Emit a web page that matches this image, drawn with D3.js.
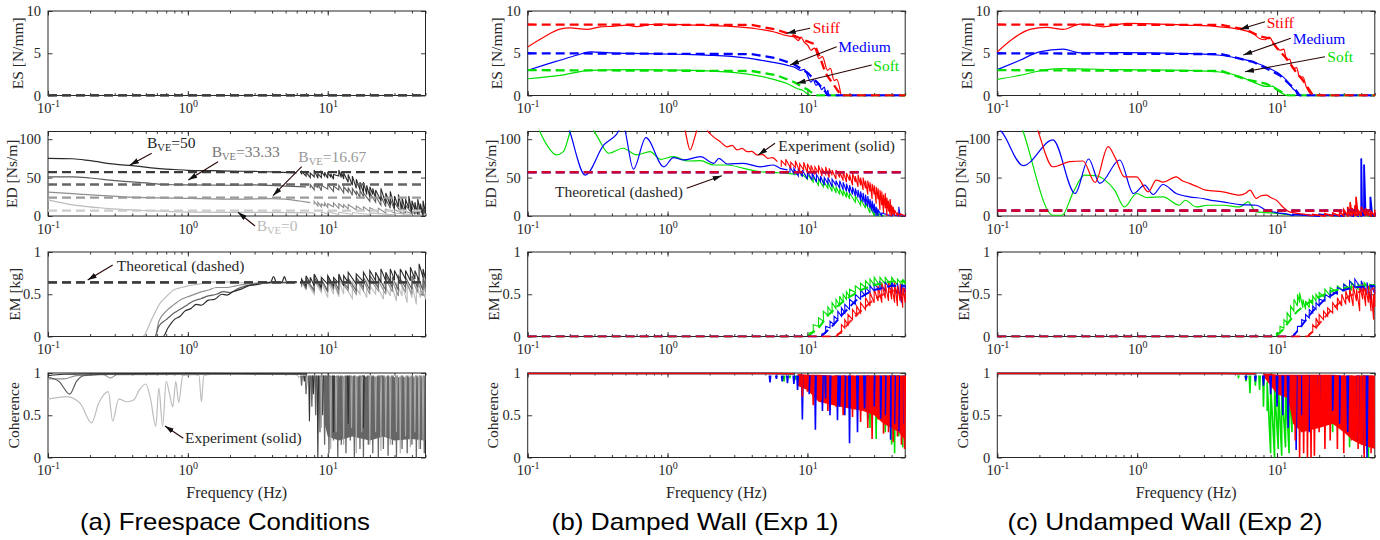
<!DOCTYPE html>
<html>
<head>
<meta charset="utf-8">
<script src="https://cdn.jsdelivr.net/npm/d3@7"></script>
<style>
  body { margin: 0; background: #fff; }
  svg { display: block; }
  text { font-family: "Liberation Serif", "Times New Roman", serif; }
</style>
</head>
<body>
<svg id="fig" width="1380" height="540"></svg>
<script>
// ---------------- data (frequency in Hz, value) ----------------
const fDomain = [0.1, 50];
const xMajor = [0.1, 1, 10];
const rowNames = ['ES [N/mm]', 'ED [Ns/m]', 'EM [kg]', 'Coherence'];
const yDomains = [[0, 10], [0, 110], [0, 1], [0, 1]];
const yTickVals = [[0, 5, 10], [0, 50, 100], [0, 0.5, 1], [0, 0.5, 1]];
const captions = ['(a) Freespace Conditions', '(b) Damped Wall (Exp 1)', '(c) Undamped Wall (Exp 2)'];

// (a) freespace, four virtual dampings
const bveNames = ['50', '33.33', '16.67', '0'];
const esA_theory = [0, 0, 0, 0];
const edA_theory = [57, 41, 24, 7];
const emA_theory = [0.64, 0.64, 0.64, 0.64];

const edA_b50 = [[0.1,75],[0.15,74.5],[0.2,72],[0.3,67.5],[0.4,65.5],[0.6,62],[0.8,60.5],[1,59.5],[1.5,59],[2,58.5],[3,58],[4,57.5],[6,56]];
const edA_b33 = [[0.1,51],[0.15,51],[0.2,49.5],[0.3,46],[0.5,43],[0.7,41],[1,40.5],[2,40],[3,40.5],[5,39],[7,38]];
const edA_b16 = [[0.1,31],[0.15,29],[0.35,25],[1,23],[2.3,22],[4,22.5],[5,22],[6.3,19.5],[7.5,17.5]];
const edA_b0  = [[0.1,21],[0.15,14.5],[0.26,10],[0.45,7.5],[1,5],[2.3,4.8],[5.4,4.5],[8,4]];
const edA_b50_noise = [[6.5,54,58],[7,52,57],[7.5,50,56],[8,51,60],[8.5,49,55],[9,50,58],[9.5,52,57],[10,49,56],[10.5,51,55],[11,48,54],[12,52,60],[12.5,50,58],[13,48,56],[14,44,54],[15,40,52],[16,36,48],[17,34,44],[18,30,44],[19,28,40],[20,25,38],[21,28,36],[22,22,34],[24,20,36],[26,16,30],[28,14,32],[30,10,26],[32,12,28],[34,8,24],[36,6,22],[38,10,26],[40,4,20],[42,8,18],[44,2,22],[46,6,16],[48,0,20],[50,4,12]];
const edA_b33_noise = [[7.5,36,41],[8,34,40],[8.5,37,42],[9,33,40],[10,35,41],[11,32,39],[12,34,40],[13,30,38],[14,31,37],[15,27,36],[16,28,33],[17,24,34],[18,25,30],[20,19,30],[22,18,26],[24,14,26],[26,12,22],[28,10,22],[30,8,18],[33,6,18],[36,4,14],[39,6,16],[42,2,12],[45,4,12],[48,2,10],[50,3,8]];
const edA_b16_noise = [[8,15,19],[8.5,13,18],[9,12,16],[9.5,13,17],[10,11,16],[11,12,17],[12,10,16],[13,11,15],[14,9,15],[16,8,13],[18,7,12],[20,6,11],[23,5,10],[26,4,9],[30,4,8],[35,3,7],[40,3,7],[45,2,6],[50,3,5]];
const edA_b0_noise  = [[9,2.5,5],[10,3,5.5],[12,2,5],[15,2,4.5],[20,2,4],[30,1.5,4],[40,1.5,3.5],[50,2,3]];

const emA_b50 = [[0.1,0],[0.665,0],[0.72,0.1],[0.8,0.2],[0.88,0.24],[0.95,0.3],[1.05,0.33],[1.15,0.38],[1.25,0.37],[1.4,0.43],[1.55,0.44],[1.75,0.5],[1.9,0.49],[2.1,0.53],[2.4,0.56],[2.7,0.6],[3,0.61],[3.5,0.63],[3.9,0.64],[4.1,0.71],[4.3,0.64],[4.7,0.64],[4.9,0.71],[5.1,0.64],[6,0.65]];
const emA_b33 = [[0.1,0],[0.58,0],[0.62,0.12],[0.7,0.2],[0.8,0.28],[0.9,0.33],[1,0.38],[1.1,0.42],[1.25,0.45],[1.4,0.48],[1.6,0.5],[1.8,0.53],[2,0.52],[2.3,0.57],[2.6,0.6],[3,0.62],[3.5,0.64],[6,0.64]];
const emA_b16 = [[0.1,0],[0.585,0],[0.62,0.18],[0.7,0.3],[0.8,0.38],[0.9,0.44],[1,0.47],[1.2,0.52],[1.4,0.55],[1.6,0.58],[1.9,0.58],[2.2,0.6],[2.6,0.62],[3,0.63],[6,0.64]];
const emA_b0  = [[0.1,0],[0.475,0],[0.55,0.2],[0.63,0.39],[0.7,0.47],[0.79,0.55],[0.9,0.58],[1,0.6],[1.2,0.62],[1.4,0.64],[1.7,0.65],[2.2,0.64],[3,0.63],[6,0.63]];
const emA_b50_noise = [[6.5,0.62,0.68],[7,0.6,0.72],[7.5,0.63,0.7],[8,0.6,0.74],[9,0.58,0.7],[10,0.62,0.72],[11,0.6,0.7],[12,0.63,0.74],[13,0.6,0.72],[14,0.64,0.76],[16,0.62,0.74],[18,0.65,0.76],[20,0.63,0.78],[22,0.66,0.76],[24,0.64,0.8],[26,0.66,0.76],[28,0.65,0.8],[30,0.67,0.78],[33,0.64,0.8],[36,0.68,0.78],[39,0.66,0.82],[42,0.68,0.78],[45,0.66,0.86],[48,0.7,0.8],[50,0.68,0.76]];
const emA_b33_noise = [[6.5,0.6,0.67],[7,0.58,0.68],[8,0.55,0.7],[9,0.57,0.68],[10,0.54,0.7],[11,0.58,0.68],[12,0.55,0.7],[14,0.57,0.69],[16,0.54,0.7],[18,0.58,0.7],[20,0.55,0.72],[23,0.58,0.7],[26,0.55,0.72],[29,0.58,0.7],[32,0.55,0.72],[36,0.58,0.7],[40,0.56,0.72],[44,0.58,0.7],[48,0.55,0.72],[50,0.58,0.68]];
const emA_b16_noise = [[6.5,0.59,0.66],[7,0.56,0.67],[8,0.53,0.68],[9,0.55,0.66],[10,0.52,0.68],[11,0.55,0.66],[12,0.5,0.67],[14,0.54,0.66],[16,0.5,0.68],[18,0.54,0.66],[20,0.5,0.68],[23,0.54,0.66],[26,0.5,0.68],[29,0.53,0.66],[32,0.48,0.67],[36,0.53,0.66],[40,0.5,0.68],[44,0.52,0.65],[48,0.48,0.66],[50,0.52,0.64]];
const emA_b0_noise  = [[6.5,0.58,0.66],[7,0.55,0.65],[8,0.5,0.66],[9,0.52,0.64],[10,0.46,0.66],[11,0.5,0.64],[12,0.47,0.66],[13,0.5,0.63],[15,0.45,0.65],[17,0.5,0.64],[19,0.46,0.66],[22,0.5,0.64],[25,0.44,0.64],[28,0.48,0.66],[31,0.42,0.64],[34,0.48,0.62],[37,0.4,0.64],[40,0.46,0.62],[43,0.38,0.62],[46,0.46,0.64],[50,0.44,0.6]];

const cohA_b50 = [[0.1,0.97],[0.13,0.985],[0.2,0.99],[1,0.995],[7,0.99]];
const cohA_b33 = [[0.1,0.95],[0.12,0.9],[0.143,0.75],[0.16,0.9],[0.18,0.97],[0.3,0.985],[7,0.99]];
const cohA_b16 = [[0.1,0.93],[0.13,0.93],[0.16,0.97],[0.25,0.98],[0.28,0.94],[0.31,0.98],[7,0.99]];
const cohA_b0  = [[0.1,0.69],[0.136,0.72],[0.17,0.64],[0.205,0.41],[0.23,0.64],[0.27,0.78],[0.29,0.43],[0.32,0.69],[0.37,0.66],[0.41,0.68],[0.45,0.8],[0.5,0.87],[0.54,0.7],[0.59,0.37],[0.62,0.82],[0.66,0.37],[0.7,0.9],[0.74,0.75],[0.78,0.6],[0.82,0.9],[0.86,0.65],[0.92,0.97],[1.1,0.98],[1.2,0.97],[1.25,0.66],[1.3,0.97],[1.6,0.99],[3,0.99],[6,0.98]];
const cohA_band = [[9.5,0.4,0.97],[10,0.25,0.97],[12,0.2,0.96],[15,0.25,0.96],[20,0.2,0.96],[25,0.25,0.95],[30,0.2,0.95],[40,0.22,0.95],[50,0.2,0.94]];
const cohA_spk_mid = [[6.5,0.85],[7,0.75],[7.7,0.6],[8.2,0.5],[8.8,0.3],[9.5,0.15],[10.2,0.05],[11,0.2],[11.8,0.0],[12.5,0.15],[13.5,0.05],[14.5,0.2],[15.5,0.0],[17,0.1],[18,0.0],[19.5,0.15],[21,0.05],[23,0.0],[25,0.1],[27,0.02],[29,0.15],[31,0.0],[34,0.1],[37,0.05],[40,0.15],[43,0.0],[46,0.1],[49,0.05]];
const cohA_spk_dark = [[6.8,0.9],[7.4,0.43],[7.9,0.75],[8.5,0.0],[9.2,0.5],[11,0.3],[14,0.4],[18,0.35],[24,0.3]];
const cohA_spk_light = [[6.2,0.95],[7.1,0.85],[9,0.35],[10.5,0.1],[11.5,0.3],[13,0.15],[14.8,0.35],[16,0.05],[17.5,0.3],[20,0.15],[22,0.3],[24,0.08],[26,0.25],[28,0.15],[31,0.3],[33,0.05],[36,0.25],[39,0.12],[42,0.3],[45,0.1],[48,0.2]];

// (b) damped wall, walls: soft / medium / stiff
const esB_red   = [[0.1,5.75],[0.13,6.9],[0.17,7.86],[0.2,8.0],[0.265,7.82],[0.33,8.13],[0.42,8.2],[0.51,8.33],[0.6,8.15],[0.75,8.4],[0.89,8.45],[1.54,8.33],[2.67,8.2],[4.14,7.94],[6.1,7.42],[7,7.1],[8,6.94],[8.6,6.5],[9.0,6.9],[9.45,6.35],[10.1,5.9],[10.6,5.36],[11.2,5.6],[12.1,4.37],[12.8,4.6],[13.9,2.98],[14.6,3.2],[15.5,1.79],[16.2,1.9],[17.4,0]];
const esB_blue  = [[0.1,2.98],[0.129,3.57],[0.17,4.17],[0.224,4.76],[0.28,5.16],[0.39,5.04],[0.67,4.96],[1.17,4.88],[2.03,4.76],[3.5,4.48],[5.46,3.97],[7.2,3.57],[8,3.37],[8.96,2.98],[9.5,3.1],[10,2.38],[10.6,1.58],[11.0,1.9],[11.5,1.2],[12.1,1.4],[12.6,0.7],[13.2,1.0],[13.6,0.2],[14,0.6],[14.2,0]];
const esB_green = [[0.1,1.98],[0.17,2.38],[0.28,2.98],[0.51,3.06],[1.54,2.98],[3.5,2.58],[5.17,2.1],[7.2,1.39],[8.5,0.8],[9.3,0.6],[10,0.2],[10.6,0]];
const esB_red_th   = [[0.1,8.4],[4,8.35],[6,7.8],[8,7.1],[10,6.4],[11.2,6.1],[12.5,4.2],[13.5,2.6],[15.5,1.2],[17.4,0],[50,0]];
const esB_blue_th  = [[0.1,5.0],[4,4.9],[6,4.4],[8,3.7],[10,2.7],[12,1.4],[13.5,0.4],[14,0],[50,0]];
const esB_green_th = [[0.1,3.0],[4,2.9],[6,2.4],[8,1.6],[10,0.7],[11,0.2],[11.5,0],[50,0]];

const edB_theory = 57;
const edB_green = [[0.1,150],[0.122,110],[0.137,92.5],[0.16,79.5],[0.18,83.8],[0.2,108],[0.24,150],[0.29,115],[0.32,101],[0.38,81.7],[0.48,88.2],[0.6,79.5],[0.75,83.8],[0.89,73.8],[1.1,77.2],[1.4,71.6],[1.72,72],[2.14,66.4],[2.67,66.4],[3.5,62],[4.6,57.6],[6,56.5],[7.2,55.5],[8.5,54]];
const edB_blue  = [[0.17,150],[0.2,110],[0.258,53.3],[0.35,92.5],[0.43,106],[0.48,118],[0.57,61],[0.7,102],[0.94,64],[1.1,76],[1.3,73],[1.72,77.2],[2.14,68.6],[2.33,75],[2.67,67.7],[3.5,68.6],[4.6,64],[5.7,66.4],[6.4,62],[7.2,60]];
const edB_red   = [[1.25,135],[1.34,110],[1.45,86],[1.55,100],[1.62,112],[1.75,135],[1.92,112],[2.1,104],[2.37,97],[2.67,90],[2.9,92],[3.14,86],[3.4,88],[3.7,83.8],[4.0,84],[4.38,79.5],[4.8,80],[5.2,75],[5.6,76],[6.1,70.7]];
const edB_green_noise = [[9,52,56],[10,48,54],[11,44,52],[12,40,48],[13,38,46],[14,36,44],[15,32,42],[16,30,38],[17,28,36],[18,26,34],[19,24,32],[20,22,30],[22,18,26],[24,14,22],[26,10,18],[28,4,14],[30,0,8],[32,0,3],[35,0,1]];
const edB_blue_noise  = [[7.5,56,64],[8,55,62],[8.6,52,62],[9.2,51,60],[10,48,58],[10.8,47,56],[11.6,44,54],[12.4,45,52],[13.2,40,50],[14,42,50],[15,38,48],[16,40,46],[17,36,46],[18,34,44],[19,32,42],[20,30,40],[21,28,38],[22,26,36],[23,24,34],[24,20,32],[25,18,30],[26,14,28],[27,12,26],[28,10,22],[29,6,20],[30,4,16],[31,0,12],[32,0,8],[34,0,4],[40,0,2],[45,0,12],[46,0,2],[50,0,1]];
const edB_red_noise   = [[6.5,64,72],[7,66,74],[7.6,62,70],[8.2,63,72],[8.8,58,68],[9.4,60,70],[10,56,68],[10.6,58,66],[11.3,54,64],[12,56,66],[12.7,52,62],[13.5,54,64],[14.3,50,62],[15,53,60],[16,48,60],[17,50,58],[18,46,58],[19,44,56],[20,46,54],[21,40,56],[22,44,52],[23,38,54],[24,40,50],[25,34,50],[26,36,46],[27,28,46],[28,32,44],[29,22,42],[30,28,40],[31,16,38],[32,22,36],[33,8,34],[34,14,32],[35,4,28],[36,10,30],[37,0,24],[38,6,20],[39,0,22],[40,0,14],[41,2,12],[42,0,8],[44,0,4],[46,0,3],[50,0,1]];

const emB_green_th = [[0.1,0],[10,0],[12,0.1],[14,0.25],[17,0.38],[20,0.47],[25,0.56],[30,0.61],[40,0.65],[50,0.65]];
const emB_blue_th  = [[0.1,0],[12.5,0],[15,0.12],[18,0.27],[22,0.42],[26,0.5],[30,0.55],[40,0.6],[50,0.6]];
const emB_red_th   = [[0.1,0],[16,0],[18,0.08],[20,0.17],[24,0.3],[28,0.4],[33,0.48],[40,0.54],[50,0.56]];
const emB_green = [[10.3,0,0.04],[11,0.06,0.14],[12,0.12,0.22],[13,0.18,0.3],[14,0.25,0.35],[15,0.28,0.4],[16,0.33,0.44],[17,0.37,0.48],[18,0.4,0.5],[19,0.44,0.53],[20,0.47,0.56],[22,0.52,0.6],[24,0.55,0.63],[26,0.58,0.66],[28,0.6,0.68],[30,0.61,0.7],[33,0.6,0.7],[36,0.62,0.7],[40,0.6,0.7],[44,0.61,0.68],[48,0.6,0.68],[50,0.62,0.66]];
const emB_blue  = [[12.7,0,0.03],[13.5,0.04,0.12],[14.5,0.1,0.18],[15.5,0.14,0.24],[16.5,0.2,0.3],[17.5,0.24,0.34],[18.5,0.28,0.38],[20,0.32,0.44],[22,0.38,0.5],[24,0.44,0.55],[26,0.48,0.58],[28,0.52,0.6],[30,0.54,0.62],[33,0.55,0.64],[36,0.54,0.64],[40,0.55,0.65],[44,0.5,0.63],[47,0.4,0.62],[50,0.52,0.6]];
const emB_red   = [[16.4,0,0.03],[17.5,0.04,0.14],[18.5,0.1,0.2],[19.5,0.14,0.26],[21,0.2,0.32],[22.5,0.25,0.36],[24,0.28,0.4],[26,0.32,0.46],[28,0.36,0.52],[30,0.4,0.56],[32,0.42,0.6],[34,0.4,0.64],[36,0.45,0.62],[38,0.42,0.66],[40,0.44,0.6],[42,0.4,0.64],[44,0.36,0.6],[46,0.42,0.62],[48,0.34,0.58],[50,0.4,0.56]];

const cohB_flat = [[0.1,0.995],[5,0.995],[8,0.99]];
const cohB_red_band = [[8.5,0.85,0.99],[10,0.8,0.98],[12,0.66,0.98],[15,0.62,0.97],[20,0.58,0.97],[25,0.55,0.97],[30,0.5,0.97],[35,0.4,0.97],[40,0.35,0.97],[45,0.3,0.97],[50,0.2,0.95]];
const cohB_red_spk   = [[9.2,0.72],[10,0.78],[11,0.62],[12.5,0.68],[14,0.55],[16,0.6],[18,0.5],[21,0.48],[24,0.42],[27,0.35],[29,0.22],[32,0.45],[35,0.28],[38,0.3],[41,0.18],[44,0.25],[47,0.15],[49.5,0.1]];
const cohB_blue_spk  = [[5.4,0.89],[6,0.93],[6.6,0.9],[7.2,0.88],[8,0.87],[8.5,0.8],[9.2,0.45],[10.3,0.75],[11.4,0.33],[12.8,0.55],[13.5,0.7],[14.5,0.5],[16.4,0.44],[17,0.6],[18.5,0.5],[20,0.17],[22.8,0.3],[25.6,0.58],[27,0.45],[30,0.6],[33.4,0.46],[36,0.5],[39.3,0.21],[42,0.4],[45,0.31],[49,0.4]];
const cohB_green_spk = [[6.8,0.9],[7.5,0.95],[8.2,0.92],[12,0.75],[16,0.7],[20,0.65],[25,0.6],[28,0.35],[31,0.22],[36,0.3],[40,0.15],[42,0.05],[45,0.25],[48,0.12]];

// (c) undamped wall
const esC_red   = [[0.1,5.16],[0.13,6.75],[0.171,7.82],[0.225,8.06],[0.296,7.82],[0.39,8.45],[0.48,8.3],[0.57,8.13],[0.84,8.53],[2.25,8.33],[3.9,8.13],[5.4,7.82],[6.76,7.34],[7.5,6.75],[8.2,6.6],[8.8,6.9],[9.5,6.1],[10.5,5.36],[11.2,5.5],[11.7,4.17],[12.3,4.3],[13,3.18],[13.8,3.3],[14.5,2.18],[15.3,2.2],[16.2,0.99],[17.6,0]];
const esC_blue  = [[0.1,3.06],[0.145,4.17],[0.2,5.16],[0.296,5.48],[0.39,5.04],[0.75,5.08],[2.25,4.96],[3.9,4.76],[5.4,4.37],[6.76,3.97],[8.4,3.37],[9.9,2.78],[10.5,2.5],[11.7,1.79],[13,0.8],[13.7,0.4],[14,0]];
const esC_green = [[0.1,1.9],[0.145,2.38],[0.225,3.06],[0.296,3.17],[0.75,3.06],[2.25,2.98],[3.9,2.78],[5.4,2.26],[6.76,1.59],[8.4,1.07],[9.2,1.1],[10.5,0.4],[11.7,0]];
const esC_red_th   = [[0.1,8.4],[4,8.35],[6,7.8],[7.5,7.0],[8.87,6.75],[10,5.6],[11.7,4.37],[13.5,2.9],[15.3,1.79],[18.1,0],[50,0]];
const esC_blue_th  = [[0.1,5.0],[4,4.9],[6.76,3.97],[10.5,2.38],[13.7,0.6],[14.5,0],[50,0]];
const esC_green_th = [[0.1,3.0],[4,2.9],[6,1.9],[8.4,1.39],[11.7,0.1],[12,0],[50,0]];

const edC_theory = 7;
const edC_green = [[0.14,130],[0.153,110],[0.25,1],[0.29,1],[0.35,31.4],[0.42,53.3],[0.51,52.4],[0.59,46.7],[0.69,33.6],[0.81,11.8],[0.99,29.3],[1.17,24.1],[1.53,24.9],[2,14],[2.2,20.5],[2.65,11.8],[3.2,14],[4.1,14],[5.4,11.8],[6.2,18.3],[7.1,5.3],[8.4,4.5],[12.3,1.5],[13,0.5]];
const edC_blue  = [[0.095,118],[0.107,110],[0.153,65.5],[0.25,99],[0.36,29.3],[0.45,74.2],[0.54,42.4],[0.75,72.9],[0.94,29.3],[1.13,40.2],[1.3,28],[1.53,41],[1.9,29.3],[2.36,24.9],[2.95,22.8],[3.5,20],[4.1,18.3],[5.4,14.9],[7.1,14],[8.4,7.5],[9.9,4.5],[12.3,1.8],[13,0.5]];
const edC_red   = [[0.18,130],[0.196,110],[0.25,64.1],[0.33,70.7],[0.41,71.6],[0.5,43.7],[0.62,90.3],[0.7,75],[0.81,51],[0.99,51],[1.2,31.4],[1.37,46.7],[1.53,44],[1.9,51],[2.1,46],[2.36,42.4],[2.7,38],[3.1,33.6],[4.1,31.4],[5.4,27.1],[6.0,30],[6.4,33.6],[7.1,22.8],[7.6,26],[8.4,27.1],[9.0,24],[9.9,20.5],[11,11.8],[12.3,5.3],[16.2,1.8],[18,0.5]];
const edC_green_tail = [[13,0,2],[20,0,1],[30,0,2],[40,0,5],[45,0,3],[50,0,1]];
const edC_blue_tail  = [[13,0,2],[20,0,2],[30,0,3],[35,0,4],[38,0,6],[40,0,75],[40.6,0,8],[41.9,0,67],[43,0,4],[46.5,0,25],[48,0,3],[50,0,5]];
const edC_red_tail   = [[18,0,2],[22,0,3],[25,0,4],[28,0,6],[30,0,8],[32,0,12],[33.3,0,18],[34.5,0,10],[36,0,14],[36.7,0,25],[38,0,8],[40,0,12],[43,0,10],[45,0,4],[47,0,6],[50,0,8]];

const emC_green_th = [[0.1,0],[9.8,0],[11,0.08],[12.5,0.2],[14,0.3],[16,0.38],[20,0.47],[25,0.54],[30,0.57],[40,0.6],[50,0.61]];
const emC_blue_th  = [[0.1,0],[13,0],[15,0.13],[18,0.3],[22,0.44],[27,0.53],[35,0.58],[50,0.6]];
const emC_red_th   = [[0.1,0],[16.5,0],[18,0.06],[20,0.15],[24,0.3],[28,0.4],[33,0.48],[40,0.54],[50,0.57]];
const emC_green = [[9.9,0,0.04],[10.5,0.04,0.12],[11.2,0.1,0.2],[11.8,0.16,0.28],[12.5,0.22,0.36],[13.2,0.3,0.44],[14,0.36,0.5],[14.5,0.4,0.52],[15.3,0.34,0.44],[16,0.32,0.42],[17,0.34,0.44],[18,0.38,0.48],[19,0.42,0.5],[20,0.44,0.52],[22,0.46,0.56],[24,0.48,0.58],[27,0.52,0.6],[30,0.54,0.62],[34,0.55,0.64],[38,0.56,0.62],[42,0.57,0.64],[46,0.56,0.62],[50,0.58,0.62]];
const emC_blue  = [[13.2,0,0.03],[14,0.06,0.12],[15,0.12,0.2],[16,0.18,0.26],[17,0.22,0.32],[18,0.28,0.36],[19,0.32,0.4],[20,0.36,0.44],[22,0.42,0.5],[24,0.46,0.54],[27,0.5,0.58],[30,0.54,0.62],[33,0.56,0.66],[36,0.58,0.68],[40,0.56,0.66],[44,0.5,0.64],[47,0.42,0.62],[50,0.5,0.6]];
const emC_red   = [[17,0,0.03],[18,0.05,0.14],[19,0.1,0.22],[20,0.14,0.26],[21.5,0.2,0.3],[23,0.24,0.34],[25,0.28,0.4],[27,0.32,0.46],[29,0.36,0.5],[31,0.38,0.54],[33,0.4,0.58],[35,0.36,0.6],[37,0.42,0.56],[39,0.3,0.6],[41,0.44,0.62],[43,0.36,0.58],[45,0.4,0.6],[47,0.3,0.56],[49,0.2,0.5],[50,0.35,0.55]];

const cohC_flat = [[0.1,0.995],[4,0.995],[7,0.99]];
const cohC_green_spk = [[5.3,0.95],[6,0.9],[6.4,0.76],[7,0.85],[7.5,0.8],[8,0.6],[15,0.3],[20,0.4],[25,0.3],[33,0.12],[40,0.2],[45,0]];
const cohC_green_noise = [[8.5,0.55,0.9],[9,0.05,0.88],[9.6,0.0,0.85],[10.2,0.1,0.88],[10.8,0.02,0.85],[11.5,0.12,0.85],[12.2,0.05,0.82],[12.8,0.3,0.85]];
const cohC_blue_spk  = [[6,0.92],[7,0.9],[8,0.85],[9,0.75],[10,0.6],[11,0.5],[12,0.35],[13.7,0.09],[15,0.5],[17,0.3],[20,0.6],[25,0.55],[28,0.4],[32,0.3],[38,0.2],[42,0.05],[44,0]];
const cohC_red_band  = [[8,0.96,0.99],[9,0.85,0.99],[10,0.75,0.98],[12,0.7,0.98],[13,0.4,0.98],[15,0.3,0.98],[20,0.35,0.98],[25,0.4,0.98],[30,0.3,0.97],[35,0.2,0.97],[40,0.15,0.97],[50,0.1,0.97]];
const cohC_red_spk   = [[13.5,0.2],[14.5,0.0],[15.5,0.05],[16.5,0.0],[17.5,0.0],[18.5,0.02],[20,0.3],[22,0.1],[24,0.2],[27,0.1],[30,0.05],[34,0.2],[38,0.1],[42,0.0],[47,0.05]];

// ---------------- layout & styles ----------------
const colLeft = [48, 527.7, 997.3], plotW = 377.5;
const rowTop = [11, 131.5, 252, 373], plotH = 84.5;
const yLabelOff = [30, 36, 33, 34];
const captionX = [225, 695, 1165];
const captionW = [290, 287, 315];
const RED = '#ff0000', BLUE = '#0000ff', GREEN = '#00e000';
const GRAYS = ['#2b2b2b', '#5e5e5e', '#8f8f8f', '#bdbdbd'];
const GRAYS_TH = ['#3a3a3a', '#666666', '#9a9a9a', '#cccccc'];
const AX = '#262626';
const DASH = '9,5';

const svg = d3.select('#fig');
const defs = svg.append('defs');
defs.append('marker').attr('id', 'ah')
  .attr('viewBox', '0 0 10 6').attr('refX', 10).attr('refY', 3)
  .attr('markerWidth', 9).attr('markerHeight', 5.5).attr('markerUnits', 'userSpaceOnUse')
  .attr('orient', 'auto')
  .append('path').attr('d', 'M0,0L10,3L0,6Z').attr('fill', '#111');

function panel(c, r) {
  const x = d3.scaleLog().domain(fDomain).range([colLeft[c], colLeft[c] + plotW]);
  const y = d3.scaleLinear().domain(yDomains[r]).range([rowTop[r] + plotH, rowTop[r]]);
  const ax = svg.append('g');
  const minor = x.ticks();
  const bottom = rowTop[r] + plotH, top = rowTop[r], right = colLeft[c] + plotW;

  ax.append('g').attr('transform', `translate(0,${bottom})`)
    .call(d3.axisBottom(x).tickValues(minor).tickSize(-2.5).tickSizeOuter(0).tickFormat(''));
  ax.append('g').attr('transform', `translate(0,${top})`)
    .call(d3.axisTop(x).tickValues(minor).tickSize(-2.5).tickSizeOuter(0).tickFormat(''));
  const xb = ax.append('g').attr('transform', `translate(0,${bottom})`)
    .call(d3.axisBottom(x).tickValues(xMajor).tickSize(-4.5).tickSizeOuter(0).tickFormat(''));
  ax.append('g').attr('transform', `translate(0,${top})`)
    .call(d3.axisTop(x).tickValues(xMajor).tickSize(-4.5).tickSizeOuter(0).tickFormat(''));
  xb.selectAll('.tick text').remove();
  xb.selectAll('.tick').append('text')
    .attr('y', 17.5).attr('text-anchor', 'middle').attr('fill', AX).attr('font-size', 14.5)
    .each(function (d) {
      const t = d3.select(this);
      t.append('tspan').text('10');
      t.append('tspan').attr('dy', -6).attr('font-size', 10).text(Math.round(Math.log10(d)));
    });

  ax.append('g').attr('transform', `translate(${colLeft[c]},0)`)
    .call(d3.axisLeft(y).tickValues(yTickVals[r]).tickSize(-4.5).tickSizeOuter(0).tickPadding(7).tickFormat(d3.format('')))
    .selectAll('text').attr('font-size', 14.5).attr('fill', AX);
  ax.append('g').attr('transform', `translate(${right},0)`)
    .call(d3.axisRight(y).tickValues(yTickVals[r]).tickSize(-4.5).tickSizeOuter(0).tickFormat(''));

  ax.selectAll('.domain').remove();
  ax.selectAll('line').attr('stroke', AX).attr('stroke-width', 0.9);
  ax.selectAll('g').attr('font-family', null);

  ax.append('rect').attr('x', colLeft[c]).attr('y', top).attr('width', plotW).attr('height', plotH)
    .attr('fill', 'none').attr('stroke', AX).attr('stroke-width', 1);

  ax.append('text').attr('transform', `translate(${colLeft[c] - yLabelOff[r]},${top + plotH / 2}) rotate(-90)`)
    .attr('text-anchor', 'middle').attr('dy', '0.3em').attr('font-size', 15.5).attr('fill', AX).text(rowNames[r]);

  const id = `clip${c}${r}`;
  defs.append('clipPath').attr('id', id).append('rect')
    .attr('x', colLeft[c] - 1).attr('y', top - 1).attr('width', plotW + 2).attr('height', plotH + 2);
  const g = svg.append('g').attr('clip-path', `url(#${id})`);
  return { x, y, g };
}

function smooth(p, pts, color, w = 1.2, dash = null) {
  p.g.append('path').datum(pts)
    .attr('d', d3.line().x(d => p.x(d[0])).y(d => p.y(d[1])).curve(d3.curveMonotoneX))
    .attr('fill', 'none').attr('stroke', color).attr('stroke-width', w)
    .attr('stroke-dasharray', dash);
}
function straight(p, pts, color, w = 1.2, dash = null, op = 1) {
  p.g.append('path').datum(pts)
    .attr('d', d3.line().x(d => p.x(d[0])).y(d => p.y(d[1])))
    .attr('fill', 'none').attr('stroke', color).attr('stroke-width', w)
    .attr('stroke-dasharray', dash).attr('stroke-opacity', op);
}
function level(p, v, color, w = 2.3, op = 1) {
  straight(p, [[fDomain[0], v], [fDomain[1], v]], color, w, DASH, op);
}
// noisy part: each entry [f, low, high] is drawn as a jagged stroke
function noise(p, tri, color, w = 1.1) {
  const pts = [];
  tri.forEach(d => { pts.push([d[0], d[1]]); pts.push([d[0], d[2]]); });
  straight(p, pts, color, w);
}
function band(p, tri, color) {
  p.g.append('path').datum(tri)
    .attr('d', d3.area().x(d => p.x(d[0])).y0(d => p.y(d[1])).y1(d => p.y(d[2])))
    .attr('fill', color);
}
function spikes(p, pairs, color, top = 0.98, w = 1.1) {
  const path = d3.path();
  pairs.forEach(d => {
    path.moveTo(p.x(d[0] / 1.012), p.y(top));
    path.lineTo(p.x(d[0]), p.y(d[1]));
    path.lineTo(p.x(d[0] * 1.012), p.y(top));
  });
  p.g.append('path').attr('d', path.toString()).attr('fill', 'none')
    .attr('stroke', color).attr('stroke-width', w);
}
function label(txt, x, y, color, size = 15.5) {
  svg.append('text').attr('x', x).attr('y', y).attr('font-size', size).attr('fill', color).text(txt);
}
function bveLabel(name, x, y, color) {
  const t = svg.append('text').attr('x', x).attr('y', y).attr('font-size', 15.5).attr('fill', color);
  t.append('tspan').text('B');
  t.append('tspan').attr('font-size', 10.5).attr('dy', 3).text('VE');
  t.append('tspan').attr('dy', -3).text('=' + name);
}
function arrow(x1, y1, x2, y2) {
  svg.append('line').attr('x1', x1).attr('y1', y1).attr('x2', x2).attr('y2', y2)
    .attr('stroke', '#2a0505').attr('stroke-width', 1.1).attr('marker-end', 'url(#ah)');
}

// ---------------- column (a) ----------------
{
  const es = panel(0, 0);
  for (let i = 3; i >= 0; i--) straight(es, [[0.1, esA_theory[i]], [50, esA_theory[i]]], GRAYS[i], 1.2);
  for (let i = 3; i >= 0; i--) level(es, esA_theory[i], GRAYS_TH[i], 2.6);

  const ed = panel(0, 1);
  const edS = [edA_b50, edA_b33, edA_b16, edA_b0];
  const edN = [edA_b50_noise, edA_b33_noise, edA_b16_noise, edA_b0_noise];
  for (let i = 3; i >= 0; i--) { smooth(ed, edS[i], GRAYS[i]); noise(ed, edN[i], GRAYS[i]); }
  for (let i = 3; i >= 0; i--) level(ed, edA_theory[i], GRAYS_TH[i]);

  const em = panel(0, 2);
  const emS = [emA_b50, emA_b33, emA_b16, emA_b0];
  const emN = [emA_b50_noise, emA_b33_noise, emA_b16_noise, emA_b0_noise];
  for (let i = 3; i >= 0; i--) { smooth(em, emS[i], GRAYS[i]); noise(em, emN[i], GRAYS[i]); }
  for (let i = 3; i >= 0; i--) level(em, emA_theory[i], GRAYS_TH[i]);

  const co = panel(0, 3);
  smooth(co, cohA_b0, GRAYS[3]);
  smooth(co, cohA_b16, GRAYS[2]);
  smooth(co, cohA_b33, GRAYS[1]);
  smooth(co, cohA_b50, GRAYS[0]);
  band(co, cohA_band, '#666666');
  spikes(co, cohA_spk_mid, '#666666', 0.97, 1.3);
  spikes(co, cohA_spk_dark, '#333333', 0.97, 1.1);
  spikes(co, cohA_spk_light, '#a8a8a8', 0.96, 1.1);
}

// ---------------- column (b) ----------------
{
  const es = panel(1, 0);
  smooth(es, esB_green, GREEN); smooth(es, esB_blue, BLUE); smooth(es, esB_red, RED);
  straight(es, esB_green_th, GREEN, 2.3, DASH);
  straight(es, esB_blue_th, BLUE, 2.3, DASH);
  straight(es, esB_red_th, RED, 2.3, DASH);

  const ed = panel(1, 1);
  smooth(ed, edB_green, GREEN); noise(ed, edB_green_noise, GREEN);
  smooth(ed, edB_blue, BLUE); noise(ed, edB_blue_noise, BLUE);
  smooth(ed, edB_red, RED); noise(ed, edB_red_noise, RED);
  level(ed, edB_theory, BLUE, 2.6);
  level(ed, edB_theory, RED, 2.6, 0.82);

  const em = panel(1, 2);
  noise(em, emB_green, GREEN); noise(em, emB_blue, BLUE); noise(em, emB_red, RED);
  straight(em, emB_green_th, GREEN, 2, DASH);
  straight(em, emB_blue_th, BLUE, 2, DASH);
  straight(em, emB_red_th, RED, 2, DASH, 0.85);

  const co = panel(1, 3);
  straight(co, cohB_flat, GREEN, 1.5); straight(co, cohB_flat, BLUE, 1.5);
  spikes(co, cohB_green_spk, GREEN, 0.97, 1.6);
  band(co, cohB_red_band, RED);
  spikes(co, cohB_blue_spk, BLUE, 0.97, 1.6);
  spikes(co, cohB_red_spk, RED, 0.97, 1.6);
  straight(co, cohB_flat, RED, 1.5);
}

// ---------------- column (c) ----------------
{
  const es = panel(2, 0);
  smooth(es, esC_green, GREEN); smooth(es, esC_blue, BLUE); smooth(es, esC_red, RED);
  straight(es, esC_green_th, GREEN, 2.3, DASH);
  straight(es, esC_blue_th, BLUE, 2.3, DASH);
  straight(es, esC_red_th, RED, 2.3, DASH);

  const ed = panel(2, 1);
  smooth(ed, edC_green, GREEN); noise(ed, edC_green_tail, GREEN);
  smooth(ed, edC_blue, BLUE); noise(ed, edC_blue_tail, BLUE, 1.8);
  smooth(ed, edC_red, RED); noise(ed, edC_red_tail, RED, 1.6);
  level(ed, edC_theory, BLUE, 2.6);
  level(ed, edC_theory, RED, 2.6, 0.82);

  const em = panel(2, 2);
  noise(em, emC_green, GREEN); noise(em, emC_blue, BLUE); noise(em, emC_red, RED);
  straight(em, emC_green_th, GREEN, 2, DASH);
  straight(em, emC_blue_th, BLUE, 2, DASH);
  straight(em, emC_red_th, RED, 2, DASH, 0.85);

  const co = panel(2, 3);
  straight(co, cohC_flat, GREEN, 1.5); straight(co, cohC_flat, BLUE, 1.5);
  spikes(co, cohC_green_spk, GREEN, 0.97, 1.6);
  noise(co, cohC_green_noise, GREEN, 1.6);
  band(co, cohC_red_band, RED);
  spikes(co, cohC_blue_spk, BLUE, 0.97, 1.6);
  spikes(co, cohC_red_spk, RED, 0.97, 1.6);
  straight(co, cohC_flat, RED, 1.5);
}

// ---------------- annotations ----------------
bveLabel(bveNames[0], 147, 148, '#222');
bveLabel(bveNames[1], 211.7, 156.5, '#777');
bveLabel(bveNames[2], 298.3, 161.5, '#999');
bveLabel(bveNames[3], 256.7, 230.5, '#bbb');
arrow(151.7, 153.3, 130, 165);
arrow(218, 161.7, 188.3, 180);
arrow(301.7, 166.7, 273, 195.7);
arrow(255, 226, 238, 212.3);
label('Theoretical (dashed)', 116.7, 271, AX);
arrow(112.7, 265, 87.7, 280);
label('Experiment (solid)', 185, 443.3, AX);
arrow(183.3, 438.3, 165, 426);

label('Stiff', 812.7, 33, RED);
arrow(810, 28.3, 786.7, 33.3);
label('Medium', 838.3, 51.7, BLUE);
arrow(836.7, 46.7, 790, 65);
label('Soft', 873.3, 71, GREEN);
arrow(871.7, 65, 796.7, 83.3);
label('Experiment (solid)', 778.3, 150.7, AX);
arrow(775, 143.3, 758.3, 155);
label('Theoretical (dashed)', 555, 196.7, AX);
arrow(686.7, 188.3, 721.7, 175.7);

label('Stiff', 1266.7, 28.3, RED);
arrow(1265, 21.7, 1240, 29.3);
label('Medium', 1292.7, 44, BLUE);
arrow(1290.7, 38.3, 1243.3, 55);
label('Soft', 1327.3, 62, GREEN);
arrow(1325, 56.7, 1245, 71.7);

// x labels and captions
for (let c = 0; c < 3; c++) {
  svg.append('text').attr('x', colLeft[c] + plotW / 2).attr('y', 498)
    .attr('text-anchor', 'middle').attr('font-size', 16).attr('fill', AX).text('Frequency (Hz)');
  svg.append('text').attr('x', captionX[c]).attr('y', 530)
    .attr('text-anchor', 'middle').attr('font-size', 24)
    .attr('textLength', captionW[c]).attr('lengthAdjust', 'spacingAndGlyphs')
    .style('font-family', '"Liberation Sans", Arial, sans-serif').attr('fill', '#000').text(captions[c]);
}
</script>
</body>
</html>
